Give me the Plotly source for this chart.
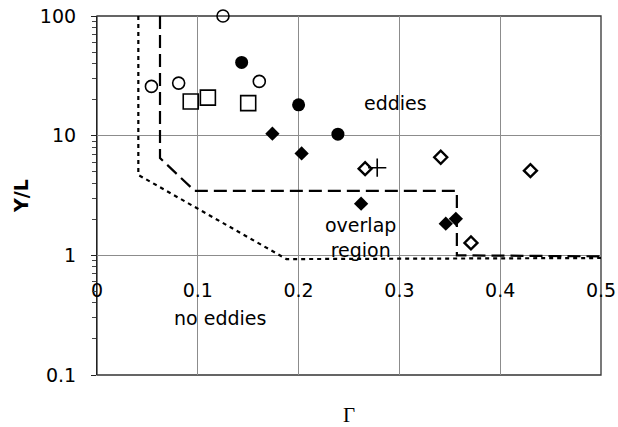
import plotly.graph_objects as go

# ---- data ----
open_circle_x = [0.054, 0.081, 0.125, 0.161]
open_circle_y = [25.8, 27.5, 100, 28.4]

filled_circle_x = [0.1435, 0.200, 0.239]
filled_circle_y = [40.9, 18.1, 10.3]

open_square_x = [0.093, 0.110, 0.150]
open_square_y = [19.3, 20.8, 18.7]

filled_diamond_x = [0.174, 0.203, 0.262, 0.346, 0.356]
filled_diamond_y = [10.4, 7.1, 2.7, 1.84, 2.02]

open_diamond_x = [0.266, 0.341, 0.430, 0.371]
open_diamond_y = [5.3, 6.6, 5.1, 1.27]

plus_x = [0.278]
plus_y = [5.4]

# boundary lines
short_dash_x = [0.041, 0.041, 0.188, 0.5]
short_dash_y = [100, 4.7, 0.93, 0.95]

long_dash_x = [0.0625, 0.0625, 0.097, 0.357, 0.357, 0.5]
long_dash_y = [100, 6.5, 3.45, 3.45, 1.0, 0.98]

x_tick_vals = [0, 0.1, 0.2, 0.3, 0.4, 0.5]
x_tick_text = ["0", "0.1", "0.2", "0.3", "0.4", "0.5"]
y_tick_vals = [0.1, 1, 10, 100]
y_tick_text = ["0.1", "1", "10", "100"]
y_minor_vals = [0.2, 0.3, 0.4, 0.5, 0.6, 0.7, 0.8, 0.9,
                2, 3, 4, 5, 6, 7, 8, 9,
                20, 30, 40, 50, 60, 70, 80, 90]

FONT = "DejaVu Sans"

fig = go.Figure()

fig.add_trace(go.Scatter(x=short_dash_x, y=short_dash_y, mode="lines",
                         line=dict(color="black", width=2.2, dash="4px,4px"),
                         showlegend=False, hoverinfo="skip"))
fig.add_trace(go.Scatter(x=long_dash_x, y=long_dash_y, mode="lines",
                         line=dict(color="black", width=2.2, dash="13px,6px"),
                         showlegend=False, hoverinfo="skip"))

fig.add_trace(go.Scatter(x=open_circle_x, y=open_circle_y, mode="markers",
                         cliponaxis=False,
                         marker=dict(symbol="circle-open", size=12, color="black",
                                     line=dict(width=1.6)), showlegend=False))
fig.add_trace(go.Scatter(x=filled_circle_x, y=filled_circle_y, mode="markers",
                         marker=dict(symbol="circle", size=13, color="black"),
                         showlegend=False))
fig.add_trace(go.Scatter(x=open_square_x, y=open_square_y, mode="markers",
                         marker=dict(symbol="square-open", size=15, color="black",
                                     line=dict(width=1.6)), showlegend=False))
fig.add_trace(go.Scatter(x=filled_diamond_x, y=filled_diamond_y, mode="markers",
                         marker=dict(symbol="diamond", size=11, color="black"),
                         showlegend=False))
fig.add_trace(go.Scatter(x=open_diamond_x, y=open_diamond_y, mode="markers",
                         marker=dict(symbol="diamond-open", size=10, color="black",
                                     line=dict(width=2.4)), showlegend=False))
fig.add_trace(go.Scatter(x=plus_x, y=plus_y, mode="markers",
                         marker=dict(symbol="cross-thin-open", size=13, color="black",
                                     line=dict(width=1.6, color="black")), showlegend=False))

fig.update_layout(
    template="none",
    width=618, height=427,
    margin=dict(l=97, r=17, t=16, b=52, pad=0),
    paper_bgcolor="white", plot_bgcolor="white",
    font=dict(family=FONT, size=19, color="black"),
    xaxis=dict(range=[0, 0.5], tickvals=x_tick_vals, ticktext=x_tick_text,
               anchor="free", position=1/3, showline=False, ticks="",
               ticklabelstandoff=22, showgrid=True, gridcolor="#8c8c8c",
               gridwidth=1, zeroline=False, tickfont=dict(size=19),
               automargin=False),
    yaxis=dict(type="log", range=[-1, 2], domain=[0, 1],
               tickvals=y_tick_vals, ticktext=y_tick_text,
               showline=True, linecolor="#222", linewidth=1.2,
               ticks="outside", ticklen=5, tickcolor="#222",
               ticklabelstandoff=11,
               minor=dict(ticks="outside", ticklen=4, tickcolor="#444",
                          tickvals=y_minor_vals, showgrid=False),
               showgrid=True, gridcolor="#8c8c8c", gridwidth=1, zeroline=False,
               automargin=False,
               title=dict(text="<b>Y/L</b>", font=dict(size=19), standoff=6)),
    shapes=[dict(type="rect", xref="x domain", yref="y domain", x0=0, x1=1, y0=0, y1=1,
                 line=dict(color="#333", width=1.3), layer="below")],
    annotations=[
        dict(text="eddies", x=0.2966, y=1.275, xref="x", yref="y", showarrow=False,
             font=dict(size=19)),
        dict(text="no eddies", x=0.122, y=-0.521, xref="x", yref="y", showarrow=False,
             font=dict(size=19)),
        dict(text="overlap<br>region", x=0.261, y=0.151, xref="x", yref="y",
             showarrow=False, font=dict(size=19)),
        dict(text="Γ", x=0.5, y=-0.111, xref="paper", yref="paper", showarrow=False,
             yanchor="middle", font=dict(family="Liberation Serif", size=21)),
    ],
)

fig.write_html("out.html", config={"displayModeBar": False},
               post_script="document.body.style.margin='0px';")
